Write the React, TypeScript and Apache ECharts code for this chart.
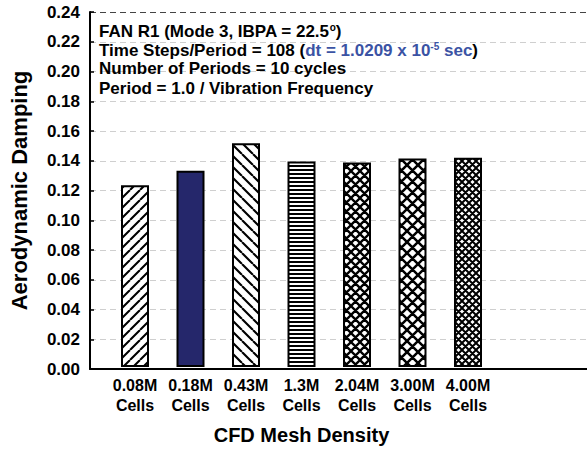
import React, { useEffect, useRef } from "react";
import * as echarts from "echarts";

const categories = [
  "0.08M\nCells",
  "0.18M\nCells",
  "0.43M\nCells",
  "1.3M\nCells",
  "2.04M\nCells",
  "3.00M\nCells",
  "4.00M\nCells",
];
const dampingValues = [0.1228, 0.1326, 0.1513, 0.139, 0.1383, 0.141, 0.1414];
const fillKinds = ["up", "solid", "down", "hlines", "cross9", "cross12", "cross7"];
const annotationLines = [
  "FAN R1 (Mode 3, IBPA = 22.5{sup|o})",
  "Time Steps/Period = 108 ({b|dt = 1.0209 x 10}{bsup|-5}{b| sec})",
  "Number of Periods = 10 cycles",
  "Period = 1.0 / Vibration Frequency",
];
const yMin = 0;
const yMax = 0.24;
const yStep = 0.02;

function makePattern(kind: string): any {
  if (kind === "solid") return "#25276b";
  const c = document.createElement("canvas");
  const ctx = c.getContext("2d")!;
  let s = 10;
  if (kind === "hlines") {
    s = 4;
    c.width = s;
    c.height = s;
    ctx.fillStyle = "#fff";
    ctx.fillRect(0, 0, s, s);
    ctx.fillStyle = "#000";
    ctx.fillRect(0, 1, s, 2);
    return { image: c, repeat: "repeat", imageWidth: s, imageHeight: s };
  }
  let w = 2.1;
  let up = false;
  let down = false;
  if (kind === "up") { s = 10; up = true; }
  if (kind === "down") { s = 11; down = true; }
  if (kind === "cross9") { s = 9; up = true; down = true; w = 2.3; }
  if (kind === "cross12") { s = 11; up = true; down = true; w = 2.5; }
  if (kind === "cross7") { s = 7; up = true; down = true; w = 2; }
  c.width = s;
  c.height = s;
  ctx.fillStyle = "#fff";
  ctx.fillRect(0, 0, s, s);
  ctx.strokeStyle = "#000";
  ctx.lineWidth = w;
  ctx.beginPath();
  for (const k of [-s, 0, s]) {
    if (up) {
      ctx.moveTo(k, s);
      ctx.lineTo(k + s, 0);
    }
    if (down) {
      ctx.moveTo(k, 0);
      ctx.lineTo(k + s, s);
    }
  }
  ctx.stroke();
  return { image: c, repeat: "repeat", imageWidth: s, imageHeight: s };
}

export default function App() {
  const ref = useRef<HTMLDivElement>(null);
  useEffect(() => {
    if (!ref.current) return;
    const chart = echarts.init(ref.current, null, { renderer: "svg" });
    const nLines = Math.round((yMax - yMin) / yStep) + 1;
    const splitColors: string[] = [];
    for (let i = 0; i < nLines; i++) splitColors.push(i === nLines - 1 ? "#444" : "#cfcfcf");
    const font = "Arial, 'Liberation Sans', sans-serif";
    const left0 = 89;
    const top0 = 12;
    const bottom0 = 81;
    const band = 55.5;
    const left1 = 107.25;

    chart.setOption({
      animation: false,
      backgroundColor: "#fff",
      textStyle: { fontFamily: font },
      grid: [
        { left: left0, right: 0, top: top0, bottom: bottom0 },
        { left: left1, width: band * categories.length, top: top0, bottom: bottom0 },
      ],
      xAxis: [
        {
          gridIndex: 0,
          type: "value",
          min: 0,
          max: 1,
          axisLine: { show: true, lineStyle: { color: "#000", width: 2 } },
          axisTick: { show: false },
          axisLabel: { show: false },
          splitLine: { show: false },
        },
        {
          gridIndex: 1,
          type: "category",
          data: categories,
          axisLine: { show: false },
          axisTick: { show: false },
          axisLabel: {
            interval: 0,
            color: "#000",
            fontWeight: "bold",
            fontSize: 16,
            lineHeight: 20,
            margin: 8,
            fontFamily: font,
          },
          name: "CFD Mesh Density",
          nameLocation: "middle",
          nameGap: 58,
          nameTextStyle: { color: "#000", fontWeight: "bold", fontSize: 20, fontFamily: font },
        },
      ],
      yAxis: [
        {
          gridIndex: 0,
          type: "value",
          min: yMin,
          max: yMax,
          interval: yStep,
          axisLine: { show: true, lineStyle: { color: "#000", width: 2 } },
          axisTick: { show: true, inside: true, length: 4, lineStyle: { color: "#000", width: 1.5 } },
          axisLabel: {
            color: "#000",
            fontWeight: "bold",
            fontSize: 17,
            margin: 10,
            fontFamily: font,
            formatter: (v: number) => v.toFixed(2),
          },
          splitLine: { show: true, lineStyle: { color: splitColors, type: [6, 4], width: 1.2 } },
          name: "Aerodynamic Damping",
          nameLocation: "middle",
          nameGap: 60,
          nameTextStyle: { color: "#000", fontWeight: "bold", fontSize: 22, fontFamily: font },
        },
        {
          gridIndex: 1,
          type: "value",
          min: yMin,
          max: yMax,
          interval: yStep,
          show: false,
          splitLine: { show: false },
        },
      ],
      series: [
        {
          type: "bar",
          xAxisIndex: 1,
          yAxisIndex: 1,
          barWidth: 28,
          data: dampingValues.map((v, i) => ({
            value: v,
            itemStyle: {
              color: makePattern(fillKinds[i]),
              borderColor: "#000",
              borderWidth: 2,
            },
          })),
        },
      ],
      graphic: annotationLines.map((t, i) => ({
        type: "text",
        left: 99,
        top: 22 + i * 19.2,
        z: 10,
        style: {
          text: t,
          fill: "#000",
          font: `bold 17px ${font}`,
          rich: {
            sup: { fontSize: 10, fontWeight: "bold", verticalAlign: "top", lineHeight: 19, fill: "#000" },
            b: { fontSize: 17, fontWeight: "bold", fill: "#3b53a4", lineHeight: 19 },
            bsup: { fontSize: 10, fontWeight: "bold", fill: "#3b53a4", verticalAlign: "top", lineHeight: 19 },
          },
        },
      })),
    });
    return () => chart.dispose();
  }, []);
  return (
    <div
      ref={ref}
      style={{ position: "fixed", left: 0, top: 0, width: 587, height: 450, background: "#fff" }}
    />
  );
}
